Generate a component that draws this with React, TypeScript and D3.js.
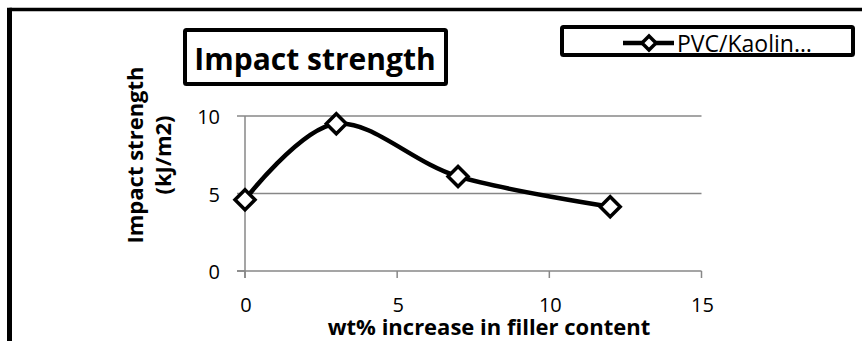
import React from "react";
import * as d3 from "d3";

// Impact strength of PVC/Kaolin composites vs filler loading
const fillerContent = [0, 3, 7, 12];
const impactStrength = [4.6, 9.5, 6.1, 4.15];
const xTicks = [0, 5, 10, 15];
const yTicks = [0, 5, 10];
const seriesName = "PVC/Kaolin…";
const chartTitle = "Impact strength";
const xTitle = "wt% increase in filler content";
const yTitleLines = ["Impact strength", "(kJ/m2)"];

const W = 862;
const H = 341;
const FONT = "'Open Sans', sans-serif";
const GRID = "#878787";

export default function App() {
  const x = d3.scaleLinear().domain([0, 15]).range([245, 701.5]);
  const y = d3.scaleLinear().domain([0, 10]).range([271, 116]);

  const pts: [number, number][] = fillerContent.map((v, i) => [x(v), y(impactStrength[i])]);
  const line = d3.line().curve(d3.curveCardinal.tension(0))(pts) || "";

  const diamond = (cx: number, cy: number, r: number) =>
    `M${cx},${cy - r}L${cx + r},${cy}L${cx},${cy + r}L${cx - r},${cy}Z`;

  return (
    <svg
      width={W}
      height={H}
      style={{ position: "absolute", left: 0, top: 0, background: "#fff" }}
      fontFamily={FONT}
    >
      <rect x={0} y={0} width={W} height={H} fill="#fff" />
      {/* outer frame */}
      <line x1={9.5} y1={9.5} x2={W + 10} y2={9.5} stroke="#000" strokeWidth={3.5} />
      <line x1={9.5} y1={7.8} x2={9.5} y2={H + 10} stroke="#000" strokeWidth={5} />

      {/* gridlines */}
      {yTicks.filter((t) => t !== 0).map((t) => (
        <line key={"g" + t} x1={x(0)} x2={x(15)} y1={y(t)} y2={y(t)} stroke={GRID} strokeWidth={1.5} />
      ))}
      {/* axes */}
      <line x1={x(0)} x2={x(0)} y1={y(10)} y2={y(0) + 7} stroke={GRID} strokeWidth={1.5} />
      <line x1={x(0) - 8} x2={x(15)} y1={y(0)} y2={y(0)} stroke={GRID} strokeWidth={1.5} />
      {yTicks.map((t) => (
        <g key={"y" + t}>
          <line x1={x(0) - 8} x2={x(0)} y1={y(t)} y2={y(t)} stroke={GRID} strokeWidth={1.5} />
          <text x={220} y={y(t) + 8} textAnchor="end" fontSize={20} fill="#000">
            {t}
          </text>
        </g>
      ))}
      {xTicks.map((t) => (
        <g key={"x" + t}>
          <line x1={x(t)} x2={x(t)} y1={y(0)} y2={y(0) + 7} stroke={GRID} strokeWidth={1.5} />
          <text x={x(t) + 1} y={312} textAnchor="middle" fontSize={20} fill="#000">
            {t}
          </text>
        </g>
      ))}

      {/* series */}
      <path d={line} fill="none" stroke="#000" strokeWidth={4.5} />
      {pts.map(([px, py], i) => (
        <path key={"m" + i} d={diamond(px, py, 10)} fill="#fff" stroke="#000" strokeWidth={3.5} />
      ))}

      {/* title */}
      <rect x={185} y={30} width={261} height={54} fill="#fff" stroke="#000" strokeWidth={4} rx={1.5} />
      <text x={315} y={70} textAnchor="middle" fontSize={30} fontWeight="bold" fill="#000">
        {chartTitle}
      </text>

      {/* legend */}
      <rect x={562} y={27} width={291} height={28} fill="#fff" stroke="#000" strokeWidth={4} rx={1.5} />
      <line x1={623} x2={674} y1={43} y2={43} stroke="#000" strokeWidth={4.5} />
      <path d={diamond(649, 43, 7)} fill="#fff" stroke="#000" strokeWidth={3.5} />
      <text x={677} y={51.5} fontSize={23} fill="#000">
        {seriesName}
      </text>

      {/* axis titles */}
      {yTitleLines.map((s, i) => (
        <text
          key={"yt" + i}
          transform={`translate(${143 + i * 28},155) rotate(-90)`}
          textAnchor="middle"
          fontSize={22}
          fontWeight="bold"
          fill="#000"
        >
          {s}
        </text>
      ))}
      <text x={489} y={335} textAnchor="middle" fontSize={22} fontWeight="bold" fill="#000">
        {xTitle}
      </text>
    </svg>
  );
}
